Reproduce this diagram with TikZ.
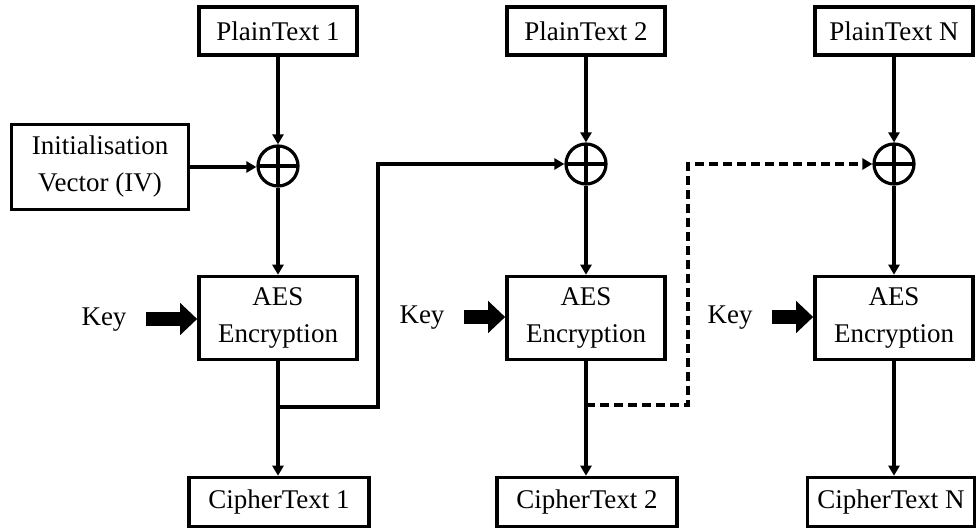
\documentclass[tikz,border=0pt]{standalone}
\usepackage{fontspec}
\setmainfont{Liberation Serif}
\usetikzlibrary{arrows.meta,calc}
\begin{document}
\begin{tikzpicture}[x=1pt,y=-1pt,
  txt/.style={font=\fontsize{27}{37}\selectfont},
  box/.style={txt, draw, line width=3.6pt, inner sep=0pt, align=center},
  ptbox/.style={box, minimum width=158pt, minimum height=48pt},
  ctbox/.style={box, minimum width=180pt, minimum height=49pt},
  aesbox/.style={box, minimum width=158pt, minimum height=83pt},
  xorop/.style={draw, circle, line width=3.2pt, minimum size=40pt, inner sep=0pt,
    path picture={\draw[line width=3.2pt]
      (path picture bounding box.north) -- (path picture bounding box.south)
      (path picture bounding box.west) -- (path picture bounding box.east);}},
  flow/.style={line width=3.2pt, -{Triangle[length=10pt,width=11pt]}},
  keyarrow/.style={line width=13pt, -{Triangle[length=17pt,width=31pt]}},
]
\useasboundingbox (0,0) rectangle (977,529);

% column 1
\node[ptbox]  (pt1)  at (278,31)  {PlainText 1};
\node[xorop]  (x1)   at (278,166) {};
\node[aesbox] (aes1) at (278,318) {AES\\Encryption};
\node[ctbox]  (ct1)  at (279,502) {CipherText 1};
\node[box, minimum width=177pt, minimum height=85pt] (iv) at (100,167) {Initialisation\\Vector (IV)};
\node[txt] (key1) at (104,320) {Key};

% column 2
\node[ptbox]  (pt2)  at (586,31)  {PlainText 2};
\node[xorop]  (x2)   at (586,164) {};
\node[aesbox] (aes2) at (586,318) {AES\\Encryption};
\node[ctbox]  (ct2)  at (587,502) {CipherText 2};
\node[txt] (key2) at (422,318) {Key};

% column N
\node[ptbox]  (pt3)  at (894,31)  {PlainText N};
\node[xorop]  (x3)   at (894,164) {};
\node[aesbox] (aes3) at (894,318) {AES\\Encryption};
\node[ctbox, minimum width=167pt] (ct3) at (891,502) {CipherText N};
\node[txt] (key3) at (730,318) {Key};

% data flow down each column
\foreach \i in {1,2,3}{
  \draw[flow] (pt\i.south) -- (x\i.north);
  \draw[flow] (x\i.south) -- (aes\i.north);
  \draw[flow] (aes\i.south) -- (aes\i.south |- ct\i.north);
  \draw[keyarrow] ($(key\i.east)+(16,-1)$) -- (aes\i.west |- {$(key\i.east)+(0,-1)$});
}
\draw[flow] (iv.east) -- (x1.west |- iv.east);

% chaining of the cipher blocks
\coordinate (b1) at (aes1.south |- 0,407);
\coordinate (t1) at (378,407);
\draw[flow] (b1) -- (t1) |- (x2.west);
\coordinate (b2) at (aes2.south |- 0,405);
\coordinate (t2) at (688,405);
\draw[flow, dash pattern=on 9pt off 5pt] (b2) -- (t2) |- (x3.west);
\end{tikzpicture}
\end{document}
